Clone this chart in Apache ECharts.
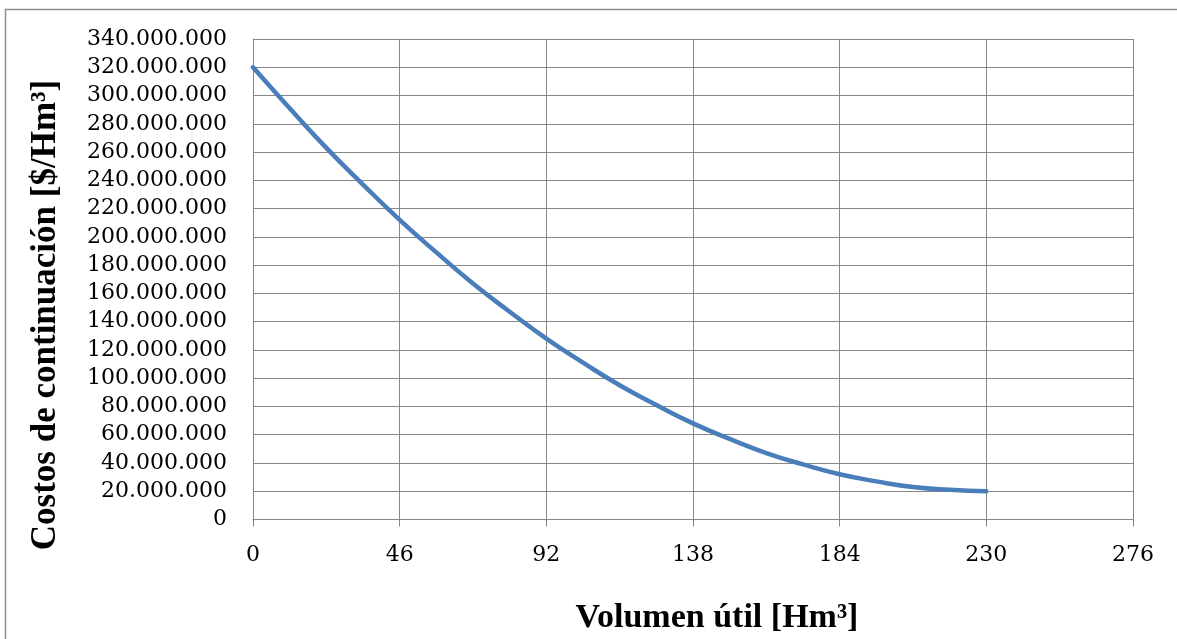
<!DOCTYPE html>
<html>
<head>
<meta charset="utf-8">
<script src="https://cdn.jsdelivr.net/npm/echarts@6/dist/echarts.min.js"></script>
<style>
  html, body { margin: 0; padding: 0; background: #ffffff; }
  #chart { width: 1177px; height: 639px; }
</style>
</head>
<body>
<div id="chart"></div>
<script>
// Volumen útil [Hm³] sampled along the curve
const volumen = [0, 11.5, 23, 34.5, 46, 57.5, 69, 80.5, 92, 103.5, 115, 126.5, 138, 149.5, 161, 172.5, 184, 195.5, 207, 218.5, 230];
// Costos de continuación [$/Hm³] at each volume
const costos = [320000000, 291000000, 263000000, 237000000, 212000000, 189000000, 167000000, 147000000, 128000000, 111000000, 95000000, 81000000, 68000000, 57000000, 47000000, 39000000, 32000000, 27000000, 23000000, 21000000, 20000000];
// Axis ranges and steps
const xMin = 0, xMax = 276, xStep = 46;
const yMin = 0, yMax = 340000000, yStep = 20000000;
const xTitle = 'Volumen útil [Hm³]';
const yTitle = 'Costos de continuación [$/Hm³]';

const seriesData = volumen.map((v, i) => [v, costos[i]]);

function fmtThousands(n) {
  return String(Math.round(n)).replace(/\B(?=(\d{3})+(?!\d))/g, '.');
}

const gridColor = '#878787';
const tickFont = { fontFamily: 'DejaVu Serif', fontSize: 22, color: '#000000' };

const chart = echarts.init(document.getElementById('chart'), null, { renderer: 'canvas' });
chart.setOption({
  animation: false,
  backgroundColor: '#ffffff',
  grid: { left: 253, right: 44, top: 39, bottom: 119.5, containLabel: false },
  xAxis: {
    type: 'value',
    min: xMin, max: xMax, interval: xStep,
    axisLine: { show: true, lineStyle: { color: gridColor, width: 1 } },
    axisTick: { show: true, length: 7, lineStyle: { color: gridColor, width: 1 } },
    splitLine: { show: true, lineStyle: { color: gridColor, width: 1 } },
    axisLabel: Object.assign({ margin: 25 }, tickFont)
  },
  yAxis: {
    type: 'value',
    min: yMin, max: yMax, interval: yStep,
    axisLine: { show: true, lineStyle: { color: gridColor, width: 1 } },
    axisTick: { show: false },
    splitLine: { show: true, lineStyle: { color: gridColor, width: 1 } },
    axisLabel: Object.assign({ margin: 26, formatter: fmtThousands }, tickFont)
  },
  series: [{
    type: 'line',
    data: seriesData,
    smooth: true,
    showSymbol: false,
    lineStyle: { color: '#4a7ebb', width: 4.5, cap: 'round' },
    itemStyle: { color: '#4a7ebb' },
    z: 5
  }],
  graphic: [
    {
      type: 'rect',
      silent: true,
      shape: { x: 5.5, y: 9.5, width: 1300, height: 800 },
      style: { fill: 'none', stroke: '#8e8e8e', lineWidth: 1.5 },
      z: -1
    },
    {
      type: 'text',
      silent: true,
      x: 717, y: 618,
      style: { text: xTitle, font: 'bold 34px "Liberation Serif"', fill: '#000000', align: 'center', verticalAlign: 'middle' }
    },
    {
      type: 'text',
      silent: true,
      x: 46, y: 315,
      rotation: Math.PI / 2,
      style: { text: yTitle, font: 'bold 35px "Liberation Serif"', fill: '#000000', align: 'center', verticalAlign: 'middle' }
    }
  ]
});
</script>
</body>
</html>
